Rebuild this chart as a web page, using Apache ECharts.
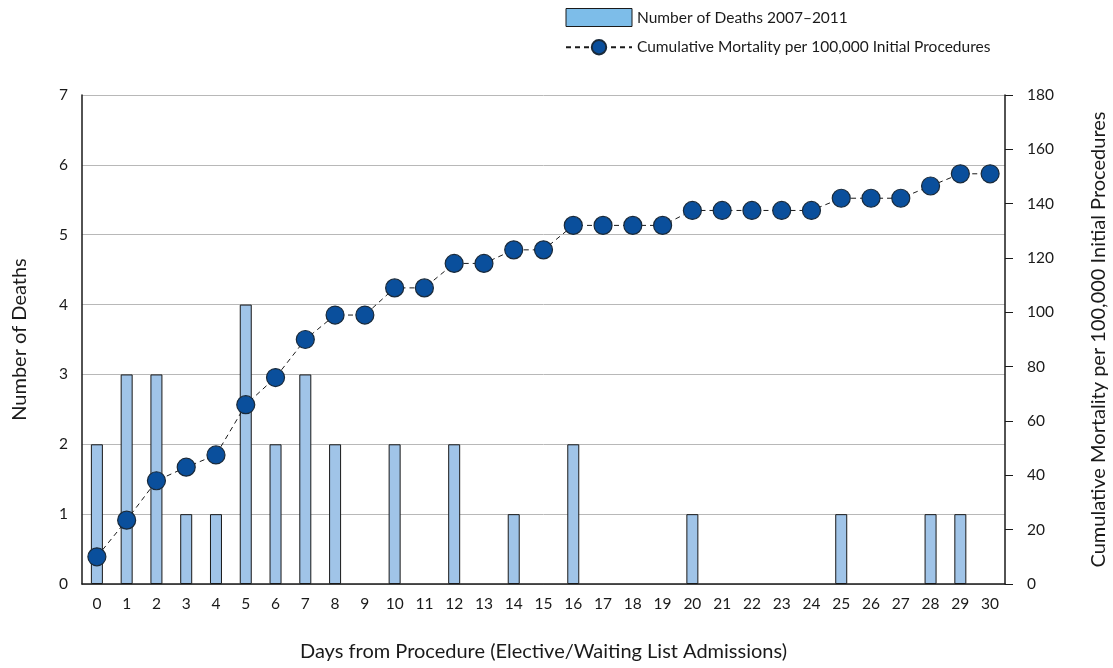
<!DOCTYPE html>
<html><head><meta charset="utf-8">
<script src="https://cdn.jsdelivr.net/npm/echarts@6/dist/echarts.min.js"></script>
<style>html,body{margin:0;padding:0;background:#fff}#c{width:1113px;height:668px}</style>
</head><body><div id="c"></div>
<script>
const days = ['0','1','2','3','4','5','6','7','8','9','10','11','12','13','14','15','16','17','18','19','20','21','22','23','24','25','26','27','28','29','30'];
const deaths = [2,3,3,1,1,4,2,3,2,0,2,0,2,0,1,0,2,0,0,0,1,0,0,0,0,1,0,0,1,1,0];
const cumulative = [10,23.5,38,43,47.5,66,76,90,99,99,109,109,118,118,123,123,132,132,132,132,137.5,137.5,137.5,137.5,137.5,142,142,142,146.5,151,151];
const FONT = 'Lato, "Open Sans", sans-serif';
const chart = echarts.init(document.getElementById('c'));
chart.setOption({
  animation:false,
  textStyle:{fontFamily:FONT,color:'#1a1a1a'},
  legend:{
    orient:'vertical', left:560, top:3, itemWidth:66, itemHeight:18, itemGap:12,
    textStyle:{fontFamily:FONT,fontSize:15.5,color:'#1a1a1a'},
    data:[
      {name:'Number of Deaths 2007\u20132011', icon:'rect', itemStyle:{color:'#7dbde9',borderColor:'#1a1a1a',borderWidth:1}},
      {name:'Cumulative Mortality per 100,000 Initial Procedures'}
    ]
  },
  grid:{left:82,right:108,top:95,bottom:84,outerBoundsMode:'none',containLabel:false},
  xAxis:{
    type:'category', data:days,
    axisLine:{lineStyle:{color:'#1a1a1a',width:1.5}},
    axisTick:{show:false},
    axisLabel:{fontSize:15.5,color:'#1a1a1a',margin:12,fontFamily:FONT},
    name:'Days from Procedure (Elective/Waiting List Admissions)',
    nameLocation:'middle', nameGap:58,
    nameTextStyle:{fontSize:20,color:'#1a1a1a',fontFamily:FONT}
  },
  yAxis:[
    {type:'value',min:0,max:7,interval:1,
     axisLine:{show:true,lineStyle:{color:'#1a1a1a',width:1.5}},
     axisTick:{show:false},
     axisLabel:{fontSize:15.5,color:'#1a1a1a',margin:14,fontFamily:FONT},
     splitLine:{lineStyle:{color:'#b8b8b8',width:1}},
     name:'Number of Deaths',nameLocation:'middle',nameGap:52,
     nameTextStyle:{fontSize:20,color:'#1a1a1a',fontFamily:FONT}},
    {type:'value',min:0,max:180,interval:20,position:'right',
     axisLine:{show:true,lineStyle:{color:'#1a1a1a',width:1.5}},
     axisTick:{show:true,length:8,lineStyle:{color:'#1a1a1a'}},
     axisLabel:{fontSize:15.5,color:'#1a1a1a',margin:22,fontFamily:FONT},
     splitLine:{show:false},
     name:'Cumulative Mortality per 100,000 Initial Procedures',nameLocation:'middle',nameGap:84,
     nameRotate:90,
     nameTextStyle:{fontSize:20,color:'#1a1a1a',fontFamily:FONT}}
  ],
  series:[
    {name:'Number of Deaths 2007\u20132011',type:'bar',data:deaths.map(v => v === 0 ? '-' : v),barWidth:12,
     itemStyle:{color:'#a0c4e8',borderColor:'#1a1a1a',borderWidth:1}},
    {name:'Cumulative Mortality per 100,000 Initial Procedures',type:'line',yAxisIndex:1,data:cumulative,
     symbol:'circle',symbolSize:18,
     lineStyle:{color:'#1a1a1a',width:1,type:[5,4]},
     itemStyle:{color:'#0a4f9c',borderColor:'#1a2a3a',borderWidth:1.2}}
  ]
});
</script></body></html>
